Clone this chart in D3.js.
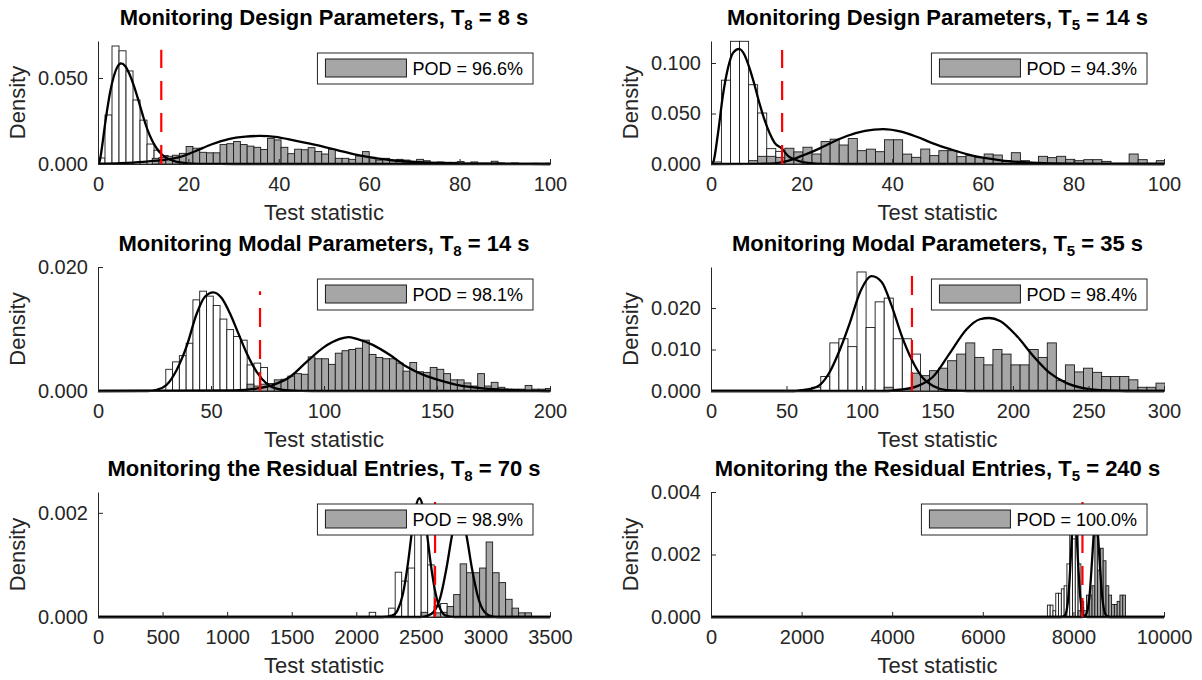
<!DOCTYPE html>
<html><head><meta charset="utf-8">
<script src="https://cdn.jsdelivr.net/npm/d3@7"></script>
<style>
body{margin:0;background:#fff}
svg{display:block}
text{font-family:"Liberation Sans",Arial,Helvetica,sans-serif}
</style>
</head><body>
<svg id="c" width="1202" height="680"></svg>
<script>
// ---------------- data ----------------
const titleLead = ["Monitoring Design Parameters, T","Monitoring Design Parameters, T",
  "Monitoring Modal Parameters, T","Monitoring Modal Parameters, T",
  "Monitoring the Residual Entries, T","Monitoring the Residual Entries, T"];
const titleSub = ["8","5","8","5","8","5"];
const titleTail = [" = 8 s"," = 14 s"," = 14 s"," = 35 s"," = 70 s"," = 240 s"];
const podLabels = ["POD = 96.6%","POD = 94.3%","POD = 98.1%","POD = 98.4%","POD = 98.9%","POD = 100.0%"];
const xLabel = "Test statistic";
const yLabel = "Density";

const xMax = [100,100,200,300,3500,10000];
const xTickStep = [20,20,50,50,500,2000];
const yMax = [0.0715,0.1218,0.020,0.0299,0.0024,0.004];
const yTickStep = [0.05,0.05,0.02,0.01,0.002,0.002];

const thresholds = [14,15.7,71.7,133.1,2610,8200];
const thresholdTop = [0.0664,0.113,0.0161,0.0283,0.00229,0.0037];

const whiteStart = [0,0.3,30,66.7,2100,7426];
const whiteWidth = [1.55,2.0,3,6,50.3,61.6];
const grayStart = [12,8.3,66,114.7,2502.4,8103.6];
const grayWidth = [1.5,2.0,3,6,50.3,61.6];

const white1 = [0.0035,0.0285,0.0686,0.0658,0.0541,0.0372,0.0255,0.0116,0.008,0.005,0.002,0.0008];
const gray1 = [0.0033,0.0037,0.0045,0.0051,0.0062,0.0102,0.0092,0.0068,0.0065,0.0065,0.0113,0.0118,0.0131,0.0113,
  0.0104,0.0097,0.0084,0.0149,0.014,0.0097,0.006,0.0086,0.0083,0.0095,0.0073,0.0058,0.0085,0.0033,0.0033,0.0027,
  0.0047,0.0072,0.0039,0.0023,0.0033,0.0019,0.0027,0.0023,0.0014,0.0027,0.0019,0.0004,0.0012,0.001,0.001,0.0014,
  0.0004,0.0012,0.0004,0.0004,0.0016,0.0006,0.0004,0.0006,0.0002,0.0002,0.0004,0.0002,0.0004];
const white2 = [0.002,0.083,0.1215,0.1215,0.0785,0.0505,0.0152,0.0125];
const gray2 = [0.0033,0.0076,0.0076,0.0066,0.0156,0.012,0.0166,0.0099,0.0222,0.0246,0.0188,0.0252,0.0132,0.0147,
  0.0122,0.024,0.024,0.0098,0.0066,0.0148,0.0083,0.0132,0.0132,0.0073,0.0083,0.0063,0.0099,0.0089,0.0033,0.0112,
  0.0033,0.0007,0.0076,0.0063,0.0076,0.0046,0.0033,0.0043,0.0043,0.0026,0.0007,0.0007,0.0099,0.0043,0.0007,0.0033];
const white3 = [0.0035,0.0047,0.0057,0.0077,0.0147,0.0161,0.0153,0.0138,0.0116,0.0099,0.0088,0.0082,0.0042,0.0045,0.0038];
const gray3 = [0.0011,0.0008,0.0011,0.0012,0.0018,0.0019,0.0024,0.0028,0.0027,0.0055,0.0052,0.0052,0.0043,0.0061,
  0.0065,0.0067,0.0069,0.0082,0.0059,0.0054,0.0052,0.0052,0.0045,0.0032,0.0046,0.0031,0.003,0.0038,0.0035,0.0028,
  0.0018,0.0018,0.0013,0.0008,0.0028,0.0008,0.0014,0.0006,0.0003,0.0003,0.0003,0.0009,0.0003,0.0003,0.0004];
const white4 = [0.0009,0.0035,0.0116,0.0126,0.0107,0.0287,0.0153,0.0215,0.0224,0.0126,0.0126,0.0089];
const gray4 = [0.0009,0.0004,0.0005,0.0043,0.0037,0.0049,0.0055,0.0073,0.0089,0.0116,0.0081,0.0063,0.01,0.0089,
  0.0063,0.0063,0.01,0.0081,0.0116,0.0025,0.0063,0.0046,0.0055,0.0045,0.0035,0.0035,0.0035,0.0027,0.0009,0.0009,0.0019];
const white5 = [0.00009,0,0,0.00017,0.00086,0.00069,0.00094,0.0018,0.0016,0.001,0.0002,0.00026];
const gray5 = [0.00009,0,0.00008,0.00009,0.0002,0.00043,0.00102,0.00085,0.00085,0.00094,0.00144,0.00085,0.00066,
  0.00034,0.00017,0.00008,0.00008];
const white6 = [0.00038,0.00038,0.0002,0.00076,0.00076,0.0009,0.001,0.0017,0.0027,0.0025,0.0026,0.0017,0.0005];
const gray6 = [0.0002,0.0003,0.0002,0.0007,0.0007,0.001,0.0026,0.0015,0.0022,0.0018,0.001,0.0007,0.0004,0.0004,
  0.0005,0.0007,0.0007];

const whiteFit1 = [[0,0],[0.3,0.001],[1,0.012],[1.5,0.022],[2,0.031],[2.7,0.042],[3.5,0.051],[4.3,0.0565],[5.1,0.0585],
  [6,0.057],[7,0.052],[8,0.045],[9,0.0365],[10,0.0275],[11,0.0195],[12,0.0135],[13,0.009],[14,0.0058],[15.5,0.003],
  [17.5,0.0012],[20,0.0004],[25,0.00005],[30,0],[100,0]];
const grayFit1 = [[0,0.0002],[5,0.0005],[10,0.0012],[14,0.0022],[17.8,0.0038],[21.5,0.0074],[25.2,0.0115],[28.9,0.0145],
  [32.6,0.0159],[35.8,0.0163],[39.2,0.0158],[43.6,0.0136],[48.4,0.011],[52.9,0.0081],[57.3,0.0053],[61.7,0.0033],
  [66.1,0.0019],[72,0.001],[79.4,0.0004],[90,0.0001],[100,0]];
const whiteFit2 = [[0,0],[0.5,0.002],[1.5,0.029],[2.65,0.0686],[3.75,0.095],[4.86,0.11],[6.2,0.114],[7.4,0.108],
  [8.5,0.095],[9.6,0.0785],[10.7,0.06],[11.8,0.044],[13,0.03],[14.05,0.021],[15.7,0.015],[17,0.008],[18.5,0.0045],
  [20,0.0022],[22,0.0008],[25,0.0002],[30,0],[100,0]];
const grayFit2 = [[0,0],[10,0.0002],[14,0.0006],[16,0.002],[18,0.0045],[20,0.008],[22,0.0115],[24,0.0155],[27,0.022],
  [30,0.0277],[34,0.0328],[38,0.0345],[42,0.032],[45.4,0.027],[49,0.0205],[52.8,0.0147],[56.4,0.0098],[60,0.0062],
  [64,0.0036],[68,0.002],[72,0.001],[78,0.0003],[85,0.0001],[100,0]];
const whiteFit3 = [[0,0],[22,0],[26,0.0002],[30.4,0.001],[34.8,0.0034],[39.2,0.0072],[43.7,0.0125],[47.3,0.0152],
  [51,0.0159],[54.7,0.015],[58.4,0.0125],[62.1,0.0093],[65.8,0.0061],[70.2,0.0031],[74.6,0.0012],[79,0.0004],
  [85,0.0001],[95,0],[200,0]];
const grayFit3 = [[0,0],[60,0.0001],[70,0.0004],[77.6,0.001],[85,0.0023],[92.3,0.0047],[99.7,0.007],[107,0.0084],
  [110.8,0.0087],[114.5,0.0084],[121.8,0.0074],[129.2,0.0058],[136.6,0.0039],[144,0.0026],[151.3,0.0017],
  [158.7,0.001],[166,0.0006],[180.8,0.0002],[200,0]];
const whiteFit4 = [[0,0],[55,0],[60,0.0002],[65.6,0.0005],[72.2,0.0015],[78.8,0.0047],[85.4,0.01],[92,0.0165],
  [98.7,0.0238],[106.4,0.0277],[113,0.0263],[119.6,0.0206],[126.3,0.0133],[132.9,0.0076],[139.5,0.0035],
  [147.2,0.0012],[156,0.0002],[170,0],[300,0]];
const grayFit4 = [[0,0],[115,0],[125,0.0003],[136.2,0.0011],[147.2,0.0035],[158.3,0.0092],[169.3,0.0149],
  [178.1,0.0173],[184.3,0.0176],[191.4,0.0169],[202.4,0.0133],[213.5,0.0084],[224.5,0.0043],[235.5,0.0019],
  [246.6,0.0007],[257.6,0.0002],[275,0],[300,0]];
const whiteFit5 = [[0,0],[2200,0],[2280,0.00003],[2320,0.00013],[2360,0.00043],[2400,0.00103],[2430,0.00162],
  [2460,0.0021],[2488,0.00228],[2515,0.00212],[2545,0.00165],[2575,0.00105],[2615,0.00044],[2655,0.00013],
  [2700,0.00002],[2760,0],[3500,0]];
const grayFit5 = [[0,0],[2500,0],[2550,0.00002],[2600,0.0001],[2650,0.00037],[2700,0.00096],[2740,0.00155],
  [2770,0.00189],[2797,0.002],[2825,0.00188],[2855,0.00154],[2895,0.00094],[2945,0.00036],[2995,0.00009],
  [3050,0.00001],[3100,0],[3500,0]];
const whiteFit6 = [[0,0],[7730,0],[7800,0.00003],[7850,0.00021],[7900,0.00085],[7940,0.00184],[7980,0.00293],
  [8020,0.0034],[8060,0.00293],[8100,0.00184],[8140,0.00085],[8190,0.00021],[8240,0.00003],[8310,0],[10000,0]];
const grayFit6 = [[0,0],[8200,0],[8260,0.00004],[8310,0.00021],[8360,0.00074],[8410,0.00177],[8450,0.00265],
  [8495,0.0031],[8540,0.00265],[8580,0.00177],[8630,0.00074],[8680,0.00021],[8730,0.00004],[8800,0],[10000,0]];

const whiteBars = [white1,white2,white3,white4,white5,white6];
const grayBars = [gray1,gray2,gray3,gray4,gray5,gray6];
const whiteFits = [whiteFit1,whiteFit2,whiteFit3,whiteFit4,whiteFit5,whiteFit6];
const grayFits = [grayFit1,grayFit2,grayFit3,grayFit4,grayFit5,grayFit6];

// ---------------- layout ----------------
const colX = [[98,550],[711,1164]];
const rowY = [[41,164],[267,391],[492,617]];
const axisColor = "#262626";
const grayFill = "#a6a6a6";

const svg = d3.select("#c");
const defs = svg.append("defs");

for (let i = 0; i < 6; i++) {
  const [x0,x1] = colX[i%2];
  const [y0,y1] = rowY[Math.floor(i/2)];
  const x = d3.scaleLinear().domain([0,xMax[i]]).range([x0,x1]);
  const y = d3.scaleLinear().domain([0,yMax[i]]).range([y1,y0]);
  const g = svg.append("g");

  const cid = "clip"+i;
  defs.append("clipPath").attr("id",cid).append("rect")
    .attr("x",x0).attr("y",y0-4).attr("width",x1-x0+1).attr("height",y1-y0+6);
  const plot = g.append("g").attr("clip-path",`url(#${cid})`);

  const bars = (vals,start,w,fill) => {
    const data = vals.map((v,k)=>({a:start+k*w,b:start+(k+1)*w,v})).filter(d=>d.v>0);
    plot.append("g").selectAll("rect").data(data).join("rect")
      .attr("x",d=>x(d.a)).attr("width",d=>x(d.b)-x(d.a))
      .attr("y",d=>y(d.v)).attr("height",d=>y(0)-y(d.v))
      .attr("fill",fill).attr("stroke","#1a1a1a").attr("stroke-width",0.9);
  };
  bars(whiteBars[i],whiteStart[i],whiteWidth[i],"#ffffff");
  bars(grayBars[i],grayStart[i],grayWidth[i],grayFill);

  const line = d3.line().x(d=>x(d[0])).y(d=>y(d[1])).curve(d3.curveMonotoneX);
  [whiteFits[i],grayFits[i]].forEach(f=>{
    plot.append("path").attr("d",line(f)).attr("fill","none")
      .attr("stroke","#000").attr("stroke-width",2.3).attr("stroke-linejoin","round");
  });

  plot.append("line")
    .attr("x1",x(thresholds[i])).attr("x2",x(thresholds[i]))
    .attr("y1",y(0)).attr("y2",y(thresholdTop[i]))
    .attr("stroke","#ff0000").attr("stroke-width",2.2).attr("stroke-dasharray","19,13");

  // axes
  const xt = d3.range(0,xMax[i]+xTickStep[i]/2,xTickStep[i]);
  const yt = d3.range(0,yMax[i]+1e-9,yTickStep[i]);
  const xa = g.append("g").attr("transform",`translate(0,${y1})`)
    .call(d3.axisBottom(x).tickValues(xt).tickFormat(d3.format("d")).tickSizeInner(-5).tickSizeOuter(0).tickPadding(13));
  const ya = g.append("g").attr("transform",`translate(${x0},0)`)
    .call(d3.axisLeft(y).tickValues(yt).tickFormat(d3.format(".3f")).tickSizeInner(-5).tickSizeOuter(0).tickPadding(10));
  [xa,ya].forEach(a=>{
    a.selectAll("path,line").attr("stroke",axisColor).attr("stroke-width",1);
    a.selectAll("text").attr("fill",axisColor).attr("font-size",20)
      .attr("font-family","'Liberation Sans',Arial,sans-serif");
  });

  // labels
  g.append("text").attr("x",(x0+x1)/2).attr("y",y1+56).attr("text-anchor","middle")
    .attr("font-size",22).attr("fill",axisColor).text(xLabel);
  g.append("text").attr("transform",`translate(${x0-73},${(y0+y1)/2}) rotate(-90)`)
    .attr("text-anchor","middle").attr("font-size",22).attr("fill",axisColor).text(yLabel);

  // title
  const t = g.append("text").attr("x",(x0+x1)/2).attr("y",y0-16).attr("text-anchor","middle")
    .attr("font-size",22).attr("font-weight","bold").attr("fill","#000");
  t.append("tspan").text(titleLead[i]);
  t.append("tspan").attr("font-size",15).attr("dy",5).text(titleSub[i]);
  t.append("tspan").attr("dy",-5).text(titleTail[i]);

  // legend
  const lg = g.append("g");
  const box = lg.append("rect");
  const sw = lg.append("rect");
  const lt = lg.append("text").attr("font-size",18).attr("fill","#000").text(podLabels[i]);
  const tw = lt.node().getComputedTextLength();
  const bw = 8+81+6+tw+10, bh = 31;
  const bx = x1-17-bw, by = y0+12;
  box.attr("x",bx).attr("y",by).attr("width",bw).attr("height",bh)
    .attr("fill","#fff").attr("stroke",axisColor).attr("stroke-width",1);
  sw.attr("x",bx+8).attr("y",by+6).attr("width",81).attr("height",18)
    .attr("fill",grayFill).attr("stroke","#1a1a1a").attr("stroke-width",1);
  lt.attr("x",bx+95).attr("y",by+22);
}
</script>
</body></html>
